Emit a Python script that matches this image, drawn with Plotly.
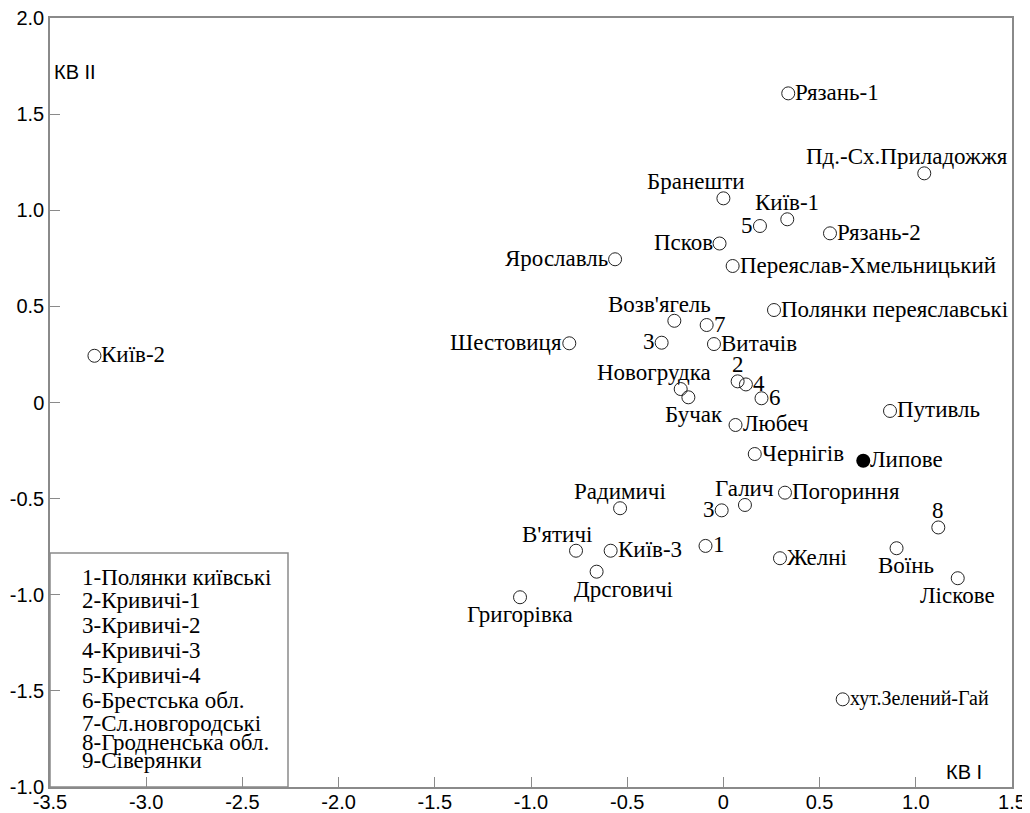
import plotly.graph_objects as go

# ---- data ----
names = ["Київ-2", "Рязань-1", "Пд.-Сх.Приладожжя", "Бранешти", "Київ-1", "5", "Рязань-2",
         "Псков", "Ярославль", "Переяслав-Хмельницький", "Полянки переяславські", "Возв'ягель",
         "7", "3", "Шестовиця", "Витачів", "2", "4", "Новогрудка", "Бучак", "6", "Путивль",
         "Любеч", "Чернігів", "Галич", "Погориння", "3", "8", "Радимичі", "В'ятичі",
         "Київ-3", "1", "Дрсговичі", "Григорівка", "Желні", "Воїнь", "Ліскове", "хут.Зелений-Гай"]
kv1 = [-3.269, 0.337, 1.044, 0.0, 0.332, 0.19, 0.554,
       -0.02, -0.563, 0.048, 0.263, -0.255,
       -0.087, -0.321, -0.801, -0.049, 0.074, 0.117, -0.222, -0.182, 0.198, 0.866,
       0.063, 0.163, 0.112, 0.32, -0.009, 1.117, -0.537, -0.766,
       -0.586, -0.093, -0.659, -1.057, 0.294, 0.9, 1.218, 0.62]
kv2 = [0.243, 1.608, 1.192, 1.062, 0.953, 0.918, 0.88,
       0.827, 0.745, 0.71, 0.481, 0.425,
       0.403, 0.311, 0.308, 0.304, 0.11, 0.094, 0.07, 0.027, 0.022, -0.044,
       -0.117, -0.268, -0.533, -0.469, -0.561, -0.65, -0.55, -0.771,
       -0.771, -0.746, -0.88, -1.013, -0.81, -0.758, -0.914, -1.544]

special_name = ["Липове"]
special_kv1 = [0.727]
special_kv2 = [-0.303]

legend_lines = ["1-Полянки київські", "2-Кривичі-1", "3-Кривичі-2", "4-Кривичі-3", "5-Кривичі-4",
                "6-Брестська обл.", "7-Сл.новгородські", "8-Гродненська обл.", "9-Сіверянки"]

x_tickvals = [-3.5, -3.0, -2.5, -2.0, -1.5, -1.0, -0.5, 0, 0.5, 1.0, 1.5]
x_ticktext = ["-3.5", "-3.0", "-2.5", "-2.0", "-1.5", "-1.0", "-0.5", "0", "0.5", "1.0", "1.5"]
y_tickvals = [2.0, 1.5, 1.0, 0.5, 0, -0.5, -1.0, -1.5, -2.0]
y_ticktext = ["2.0", "1.5", "1.0", "0.5", "0", "-0.5", "-1.0", "-1.5", "-1.0"]

# ---- label placement (style, kept separate from data) ----
label_pos = ["r", "r", ("t", -17), ("t", -27), "t", "l", "r",
             "l", "l", "r", "r", ("t", -15),
             "r", "l", "l", "r", "t", "r", ("t", -27), ("b", 6), "r", "r",
             "r", "r", "t", "r", "l", "t", "t", ("t", -19),
             "r", "r", ("b", 27), "b", "r", ("b", 9), "b", "r"]

# page body has an 8px margin, so the figure is sized to fit the 1030x813 window
OFF = 8
W, H = 1030 - OFF, 813 - OFF
L, R, T, B = 50 - OFF, 18, 18 - OFF, 26
PW, PH = W - L - R, H - T - B
gray = "#8a8a8a"
serif = "Liberation Serif, Times New Roman, serif"
sans = "Liberation Sans, Arial, sans-serif"

fig = go.Figure()
fig.add_trace(go.Scatter(x=kv1, y=kv2, mode="markers",
                         marker=dict(symbol="circle-open", size=13, color="#222",
                                     line=dict(width=1, color="#222")),
                         hoverinfo="text", text=names, showlegend=False))
fig.add_trace(go.Scatter(x=special_kv1, y=special_kv2, mode="markers",
                         marker=dict(symbol="circle", size=14, color="black"),
                         hoverinfo="text", text=special_name, showlegend=False))

annotations = []

def add_label(txt, x, y, pos, size=23):
    extra = 0
    if isinstance(pos, tuple):
        pos, extra = pos
    a = dict(x=x, y=y, xref="x", yref="y", text=txt, showarrow=False,
             font=dict(family=serif, size=size, color="black"))
    if pos == "r":
        a.update(xanchor="left", yanchor="middle", xshift=5 + extra, yshift=1)
    elif pos == "l":
        a.update(xanchor="right", yanchor="middle", xshift=-5 + extra, yshift=1)
    elif pos == "t":
        a.update(xanchor="center", yanchor="bottom", xshift=extra, yshift=2)
    elif pos == "b":
        a.update(xanchor="center", yanchor="top", xshift=extra, yshift=-3)
    annotations.append(a)

for n, x, y, p in zip(names, kv1, kv2, label_pos):
    add_label(n, x, y, p, size=20 if n.startswith("хут") else 23)
for n, x, y in zip(special_name, special_kv1, special_kv2):
    add_label(n, x, y, "r")

# legend box text lines (pixel rows in the window)
legend_rows = [577, 600, 625, 650, 675, 700, 723, 742, 760]
for txt, py in zip(legend_lines, legend_rows):
    annotations.append(dict(x=(80 - 50) / PW, y=1 - (py - 18) / PH, xref="paper", yref="paper",
                            text=txt, showarrow=False, xanchor="left", yanchor="middle",
                            font=dict(family=serif, size=23, color="black")))

# axis captions
annotations.append(dict(x=-3.5, y=1.72, xref="x", yref="y", text="КВ II", showarrow=False,
                        xanchor="left", yanchor="middle", xshift=2,
                        font=dict(family=sans, size=20, color="black")))
annotations.append(dict(x=1.5, y=-1.92, xref="x", yref="y", text="КВ I", showarrow=False,
                        xanchor="right", yanchor="middle", xshift=-28,
                        font=dict(family=sans, size=20, color="black")))

fig.update_layout(
    width=W, height=H,
    margin=dict(l=L, r=R, t=T, b=B, autoexpand=False),
    plot_bgcolor="white", paper_bgcolor="white",
    annotations=annotations,
    shapes=[dict(type="rect", xref="x", yref="y", x0=-3.5, x1=-2.263, y0=-2.0, y1=-0.783,
                 line=dict(color=gray, width=1.5), fillcolor="rgba(0,0,0,0)")],
    font=dict(family=sans, size=20, color="black"),
)
fig.update_xaxes(range=[-3.5, 1.5], tickvals=x_tickvals, ticktext=x_ticktext,
                 ticks="inside", ticklen=10, tickcolor=gray, tickwidth=1,
                 showline=True, linecolor=gray, linewidth=1.5, mirror=True,
                 showgrid=False, zeroline=False, automargin=False,
                 ticklabeloverflow="allow", ticklabelstandoff=-4,
                 tickfont=dict(family=sans, size=20, color="black"))
fig.update_yaxes(range=[-2.0, 2.0], tickvals=y_tickvals, ticktext=y_ticktext,
                 ticks="inside", ticklen=10, tickcolor=gray, tickwidth=1,
                 showline=True, linecolor=gray, linewidth=1.5, mirror=True,
                 showgrid=False, zeroline=False, automargin=False,
                 ticklabeloverflow="allow",
                 tickfont=dict(family=sans, size=20, color="black"))

fig.write_html("out.html")
